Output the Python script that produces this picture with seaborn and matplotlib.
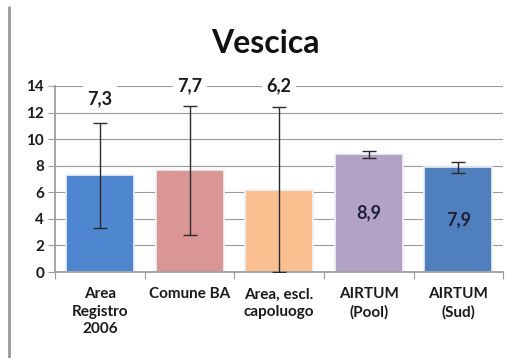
import matplotlib
matplotlib.use("Agg")
import matplotlib.pyplot as plt
import seaborn as sns
import pandas as pd
import numpy as np
from matplotlib.lines import Line2D

categories = ["Area\nRegistro\n2006", "Comune BA", "Area, escl.\ncapoluogo", "AIRTUM\n(Pool)", "AIRTUM\n(Sud)"]
values = [7.3, 7.7, 6.2, 8.9, 7.9]
labels = ["7,3", "7,7", "6,2", "8,9", "7,9"]
err_low = [3.3, 2.8, 0.0, 8.6, 7.45]
err_high = [11.2, 12.5, 12.4, 9.1, 8.3]
colors = ["#4F86D0", "#D99694", "#FAC090", "#B3A2C7", "#4F7FBC"]
yticks = [0, 2, 4, 6, 8, 10, 12, 14]

sns.set_theme(style="white")
plt.rcParams['font.family'] = ['Lato', 'DejaVu Sans']

df = pd.DataFrame({"cat": categories, "val": values})

fig = plt.figure(figsize=(5.16, 3.58), dpi=100)
ax = fig.add_axes([0.107, 0.240, 0.868, 0.520])

sns.barplot(data=df, x="cat", y="val", hue="cat", palette=colors, legend=False, saturation=1,
            width=0.76, ax=ax, edgecolor="#EEF2F8", linewidth=1.2, zorder=2)

x = np.arange(len(categories))
v = np.array(values)
ax.errorbar(x, v, yerr=[v - np.array(err_low), np.array(err_high) - v], fmt="none",
            ecolor="#2b2b2b", elinewidth=1.0, capsize=5, capthick=1.0, zorder=3)

ax.set_ylim(0, 14)
ax.set_xlim(-0.5, len(categories) - 0.5)
ax.set_yticks(yticks)
ax.set_yticklabels([str(t) for t in yticks], fontsize=11, fontweight="bold", color="#1a1a1a")
ax.set_xticks(x)
ax.set_xticklabels(categories, fontsize=11, fontweight="bold", color="#1a1a1a", linespacing=1.3)
ax.set_xlabel("")
ax.set_ylabel("")
ax.yaxis.grid(True, color="#9a9a9a", linewidth=0.8, zorder=0)
ax.set_axisbelow(True)
for s in ["top", "right"]:
    ax.spines[s].set_visible(False)
ax.spines["left"].set_color("#9a9a9a")
ax.spines["bottom"].set_color("#9a9a9a")
ax.tick_params(axis="y", length=5, color="#9a9a9a", width=0.8, direction="out", pad=3, left=True)
ax.tick_params(axis="x", length=0, pad=11)
# category boundary ticks on the x axis
ax.set_xticks(np.arange(-0.5, len(categories)), minor=True)
ax.tick_params(axis="x", which="minor", length=5, color="#9a9a9a", width=0.8, direction="out", bottom=True)

# value labels
label_y = [13.0, 14.0, 14.0, None, None]
for i, (lab, ly) in enumerate(zip(labels, label_y)):
    if ly is None:
        ax.text(i, values[i] / 2, lab, ha="center", va="center", fontsize=13, fontweight="bold",
                color="#1f1f3a", zorder=4)
    else:
        ax.text(i, ly, lab, ha="center", va="center", fontsize=13, fontweight="bold", color="#1a1a1a",
                zorder=4, bbox=dict(boxstyle="square,pad=0.25", fc="white", ec="none"))

fig.suptitle("Vescica", x=0.515, y=0.92, fontsize=23, fontweight="bold", color="#111111")

# left border of the image
fig.add_artist(Line2D([0.017, 0.017], [0.0, 0.98], transform=fig.transFigure, color="#9a9a9a", linewidth=2))

fig.savefig("out.png", dpi=100)
